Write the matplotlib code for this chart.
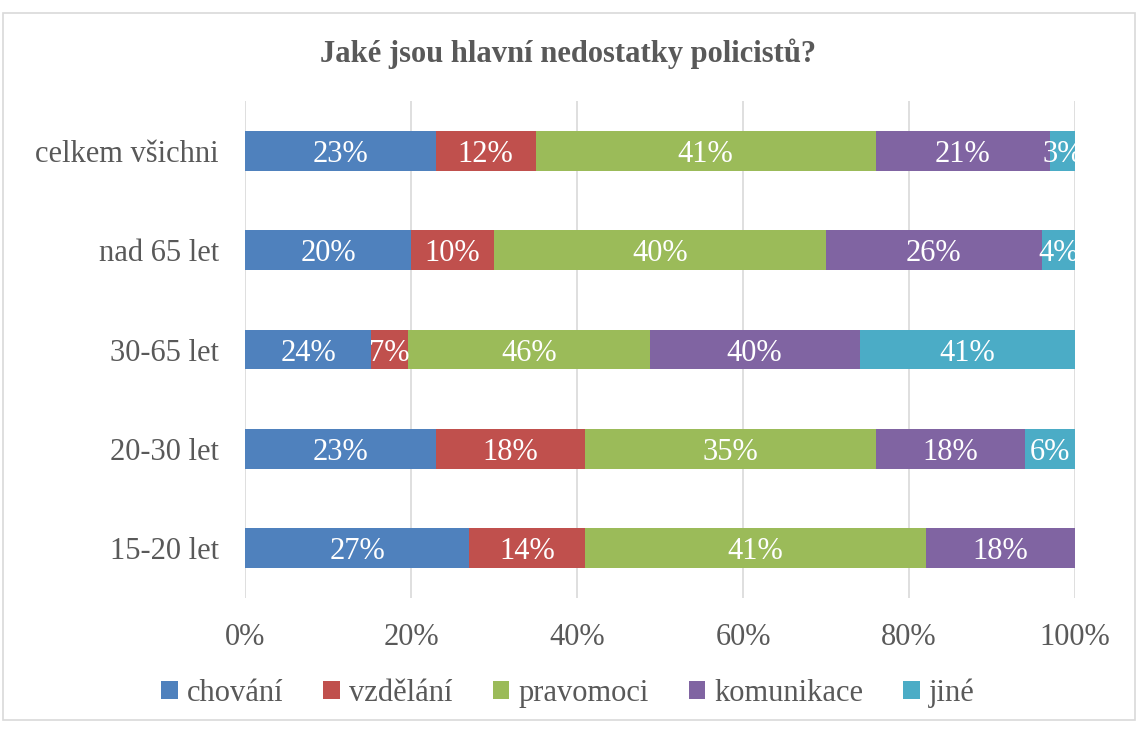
import numpy as np
import matplotlib.pyplot as plt
from matplotlib.patches import Rectangle

categories = ["15-20 let", "20-30 let", "30-65 let", "nad 65 let", "celkem všichni"]
series = ["chování", "vzdělání", "pravomoci", "komunikace", "jiné"]
chovani = [27, 23, 24, 20, 23]
vzdelani = [14, 18, 7, 10, 12]
pravomoci = [41, 35, 46, 40, 41]
komunikace = [18, 18, 40, 26, 21]
jine = [0, 6, 41, 4, 3]
colors = ["#4F81BD", "#C0504D", "#9BBB59", "#8064A2", "#4BACC6"]
xticks = [0, 20, 40, 60, 80, 100]


def main():
    plt.rcParams['font.family'] = ['Liberation Serif', 'DejaVu Serif']
    txt = '#595959'
    fs = 22
    fig = plt.figure(figsize=(11.36, 7.31), dpi=100)
    ax = fig.add_axes([0.2157, 0.1819, 0.9463 - 0.2157, 0.8618 - 0.1819])

    data = np.array([chovani, vzdelani, pravomoci, komunikace, jine], dtype=float)
    totals = data.sum(axis=0)
    shares = data / totals * 100
    y = np.arange(len(categories))
    left = np.zeros(len(categories))
    for i, name in enumerate(series):
        ax.barh(y, shares[i], left=left, height=0.4, color=colors[i],
                label=name, zorder=3)
        for j in range(len(categories)):
            if data[i, j] > 0:
                ax.text(left[j] + shares[i, j] / 2, y[j], f"{int(data[i, j])}%",
                        ha='center', va='center_baseline', color='white',
                        fontsize=fs, zorder=4)
        left += shares[i]

    ax.set_xlim(0, 100)
    ax.set_ylim(-0.5, len(categories) - 0.5)
    ax.set_xticks(xticks)
    ax.set_xticklabels([f"{t}%" for t in xticks], fontsize=fs, color=txt)
    ax.set_yticks(y)
    ax.set_yticklabels(categories, fontsize=fs, color=txt)
    ax.tick_params(length=0)
    ax.tick_params(axis='x', pad=18)
    ax.tick_params(axis='y', pad=19)
    ax.grid(axis='x', color='#d9d9d9', linewidth=1.2, zorder=0)
    for s in ax.spines.values():
        s.set_visible(False)

    fig.text(0.5, 1 - 54 / 731, "Jaké jsou hlavní nedostatky policistů?",
             ha='center', va='center', fontsize=fs, fontweight='bold', color=txt)

    fig.legend(loc='center', bbox_to_anchor=(0.5, 1 - 693 / 731), ncol=5,
               frameon=False, fontsize=fs, handlelength=0.55, handleheight=0.55,
               handletextpad=0.3, columnspacing=1.3, labelcolor=txt)

    fig.patches.append(Rectangle((3 / 1136, 11 / 731), 1 - 4 / 1136, 1 - 24 / 731,
                                 transform=fig.transFigure, fill=False,
                                 edgecolor='#d9d9d9', linewidth=1.2))
    fig.savefig("out.png", dpi=100)
    return 0


if __name__ == "__main__":
    main()
